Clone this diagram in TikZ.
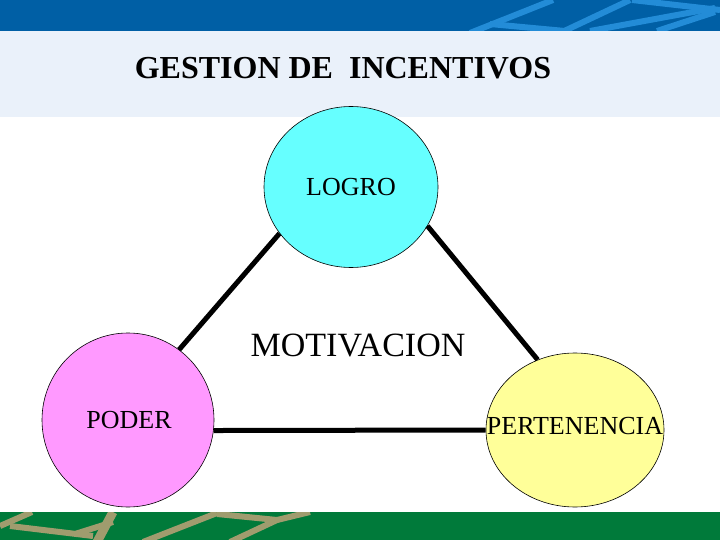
\documentclass[tikz,border=0pt]{standalone}
\usepackage{fontspec}
\setmainfont{Liberation Serif}
\usetikzlibrary{shapes.geometric}
\definecolor{bandblue}{RGB}{0,95,165}
\definecolor{stripeblue}{RGB}{35,140,215}
\definecolor{bandpale}{RGB}{234,241,250}
\definecolor{bandgreen}{RGB}{0,122,58}
\definecolor{stripetan}{RGB}{160,156,110}
\definecolor{logrocyan}{RGB}{102,255,255}
\definecolor{poderpink}{RGB}{255,153,255}
\definecolor{pertyellow}{RGB}{255,255,153}

\begin{document}
\begin{tikzpicture}[x=1pt,y=-1pt,
    blob/.style={ellipse, draw, line width=0.6pt, inner sep=0pt},
    blobtext/.style={font=\fontsize{26}{28}\selectfont},
    link/.style={line width=5pt},
    stripe/.style={line width=6pt}]
        \useasboundingbox (0,0) rectangle (720,540);

        % Bands
        \fill[bandblue] (0,0) rectangle (720,31);
        \fill[bandpale] (0,31) rectangle (720,117);
        \fill[bandgreen] (0,512) rectangle (720,540);

        % Stripes on the bands
        \begin{scope}
            \clip (0,0) rectangle (720,31);
            \draw[stripe, stripeblue] (470,33) -- (553,0);
            \draw[stripe, stripeblue] (490,24) -- (565,31);
            \draw[stripe, stripeblue] (560,33) -- (630,0);
            \draw[stripe, stripeblue] (590,31) -- (715,8);
            \draw[stripe, stripeblue] (632,0) -- (720,10);
            \draw[stripe, stripeblue] (657,31) -- (715,12);
        \end{scope}
        \begin{scope}
            \clip (0,512) rectangle (720,540);
            \draw[stripe, stripetan] (0,526) -- (32,512);
            \draw[stripe, stripetan] (10,526) -- (93,536);
            \draw[stripe, stripetan, line width=9pt] (97,542) -- (113,512);
            \draw[stripe, stripetan] (75,534) -- (113,522);
            \draw[stripe, stripetan] (143,542) -- (217,513);
            \draw[stripe, stripetan] (217,514) -- (277,520) -- (230,542);
            \draw[stripe, stripetan] (277,520) -- (310,512);
        \end{scope}

        % Title
        \node[font=\bfseries\fontsize{32}{36}\selectfont] (title) at (343,68) {GESTION DE\ \ INCENTIVOS};

        % Circles
        \node[blob, fill=logrocyan, minimum width=174pt, minimum height=161pt,
              label={[blobtext, name=logrotext]center:LOGRO}] (logro) at (351,187) {};
        \node[blob, fill=poderpink, minimum width=172pt, minimum height=174pt,
              label={[blobtext, name=podertext, xshift=1pt]center:PODER}] (poder) at (128,420) {};
        \node[blob, fill=pertyellow, minimum width=178pt, minimum height=154pt,
              label={[blobtext, name=perttext, yshift=4pt]center:PERTENENCIA}] (pert) at (575,430) {};

        % Links
        \draw[link] (logro.213) -- (poder.54);
        \draw[link] (logro.333) -- (pert.118);
        \draw[link] (poder.-7) -- (pert.180);

        \node[font=\fontsize{34}{36}\selectfont] (motiv) at (358,346) {MOTIVACION};
    \end{tikzpicture}
\end{document}
